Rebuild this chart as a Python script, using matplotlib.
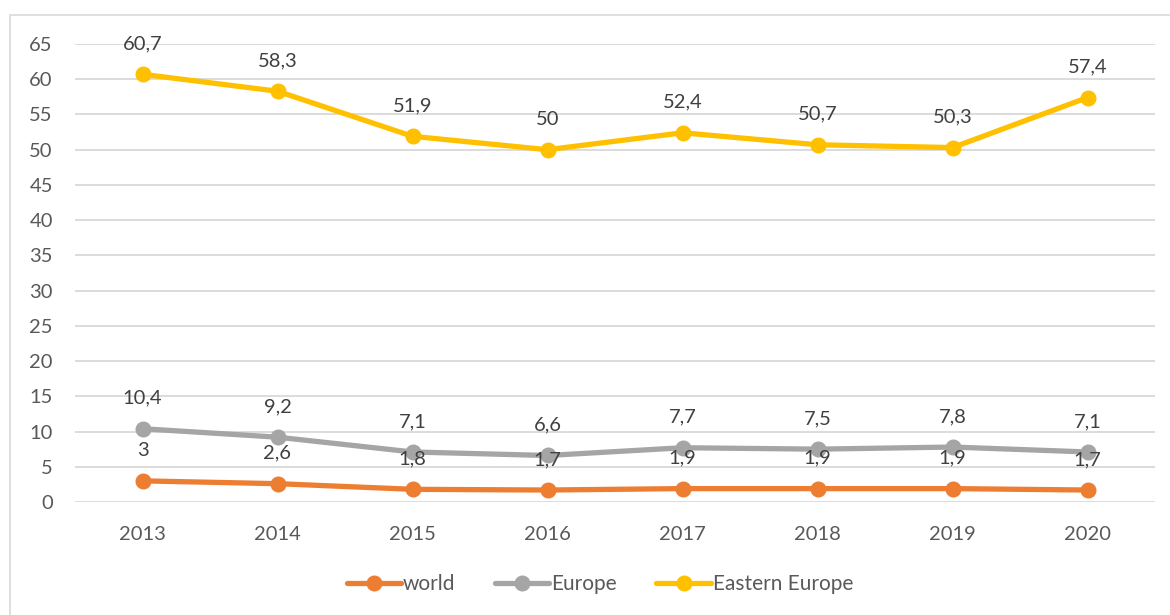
import matplotlib.pyplot as plt
from matplotlib.patches import Rectangle

plt.rcParams['font.family'] = ['Lato', 'DejaVu Sans']

# values
years = ['2013', '2014', '2015', '2016', '2017', '2018', '2019', '2020']
world = [3, 2.6, 1.8, 1.7, 1.9, 1.9, 1.9, 1.7]
europe = [10.4, 9.2, 7.1, 6.6, 7.7, 7.5, 7.8, 7.1]
eastern_europe = [60.7, 58.3, 51.9, 50, 52.4, 50.7, 50.3, 57.4]

series = [('world', world, '#ED7D31'),
          ('Europe', europe, '#A5A5A5'),
          ('Eastern Europe', eastern_europe, '#FFC000')]

text_col = '#595959'

fig = plt.figure(figsize=(11.7, 6.15), dpi=100)
ax = fig.add_axes([75 / 1170, 1 - 502 / 615, 1080 / 1170, 458 / 615])

# outer chart border (left and top visible, rest cut off)
fig.patches.append(Rectangle((10 / 1170, -0.05), 1.2, 1 - 15 / 615 + 0.05,
                             transform=fig.transFigure, fill=False,
                             edgecolor='#D9D9D9', linewidth=1.2))

x = list(range(len(years)))
for name, vals, col in series:
    ax.plot(x, vals, color=col, linewidth=3.8, marker='o', markersize=10.5,
            label=name, solid_capstyle='round', zorder=3)
    for xi, v in zip(x, vals):
        ax.annotate(f'{v:g}'.replace('.', ','), (xi, v), xytext=(0, 22),
                    textcoords='offset points', ha='center', va='center',
                    fontsize=14.5, color='#404040', zorder=4)

ax.set_xlim(-0.5, len(years) - 0.5)
ax.set_ylim(0, 65)
ax.set_yticks(range(0, 66, 5))
ax.set_xticks(x)
ax.set_xticklabels(years)
ax.yaxis.grid(True, color='#D9D9D9', linewidth=1.3)
ax.set_axisbelow(True)
for s in ax.spines.values():
    s.set_visible(False)
ax.tick_params(length=0, labelsize=14.5, colors=text_col)
ax.tick_params(axis='x', pad=17)
ax.tick_params(axis='y', pad=16)

ax.legend(loc='center', bbox_to_anchor=(0.486, -0.18), ncol=3, frameon=False,
          fontsize=15, handlelength=2.6, handletextpad=0.1,
          columnspacing=1.9, labelcolor=text_col)

fig.savefig('out.png', dpi=100)
